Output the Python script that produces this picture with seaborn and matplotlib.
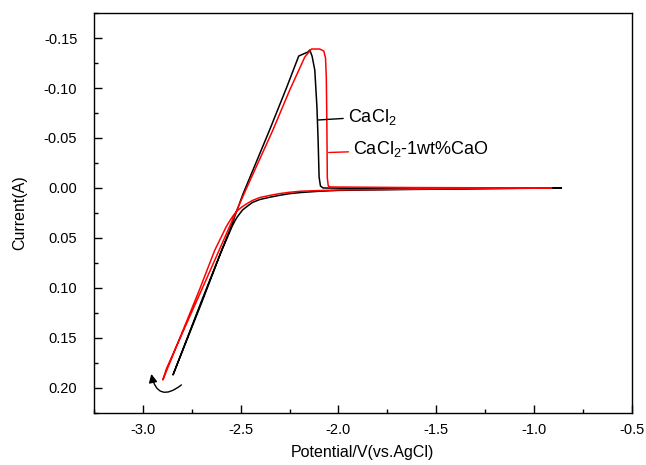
import pandas as pd
import seaborn as sns
import matplotlib
matplotlib.use("Agg")
import matplotlib.pyplot as plt
from matplotlib.ticker import MultipleLocator, FormatStrFormatter

# CaCl2 cyclic voltammogram (forward scan to the tip, then back)
cacl2_potential = [-0.86, -1.20, -1.60, -2.00, -2.10, -2.197, -2.25, -2.30, -2.35, -2.403,
                   -2.44, -2.471, -2.49, -2.505, -2.52, -2.531, -2.544, -2.556, -2.600,
                   -2.700, -2.846,
                   -2.700, -2.550, -2.488, -2.352, -2.266, -2.203, -2.156, -2.147,
                   -2.135, -2.121, -2.110, -2.104, -2.099, -2.092, -2.079,
                   -1.80, -1.40, -0.86]
cacl2_current = [0.0000, 0.0006, 0.0014, 0.0024, 0.0033, 0.0046, 0.0057, 0.0073, 0.0092, 0.0116,
                 0.0145, 0.0190, 0.0220, 0.0257, 0.0297, 0.0335, 0.0385, 0.0440, 0.0640,
                 0.1150, 0.1870,
                 0.1130, 0.0390, 0.0060, -0.058, -0.100, -0.132, -0.136, -0.138,
                 -0.132, -0.118, -0.081, -0.048, -0.011, -0.002, 0.000,
                 0.0006, 0.0005, 0.0000]

# CaCl2-1wt%CaO
cao_potential = [-0.91, -1.30, -1.70, -2.00, -2.10, -2.197, -2.25, -2.30, -2.35, -2.403,
                 -2.44, -2.474, -2.495, -2.515, -2.532, -2.546, -2.562, -2.577, -2.633,
                 -2.709, -2.898,
                 -2.880, -2.693, -2.474, -2.335, -2.249, -2.172, -2.138, -2.096,
                 -2.075, -2.066, -2.062, -2.059, -2.057, -2.052, -2.040,
                 -1.60, -0.91]
cao_current = [0.0000, 0.0006, 0.0013, 0.0020, 0.0026, 0.0033, 0.0043, 0.0056, 0.0074, 0.0096,
               0.0125, 0.0164, 0.0192, 0.0224, 0.0260, 0.0300, 0.0348, 0.0400, 0.0625,
               0.1010, 0.1920,
               0.1810, 0.0990, 0.0020, -0.058, -0.098, -0.131, -0.139, -0.139,
               -0.137, -0.130, -0.110, -0.060, -0.010, -0.002, -0.001,
               -0.0004, 0.0000]

labels = ["CaCl$_2$", "CaCl$_2$-1wt%CaO"]

df = pd.concat([
    pd.DataFrame({"potential": cacl2_potential, "current": cacl2_current, "curve": labels[0]}),
    pd.DataFrame({"potential": cao_potential, "current": cao_current, "curve": labels[1]}),
], ignore_index=True)

sns.set_style("ticks")
plt.rcParams["font.family"] = ["Liberation Sans", "DejaVu Sans"]
plt.rcParams["mathtext.fontset"] = "custom"
plt.rcParams["mathtext.rm"] = "Liberation Sans"
plt.rcParams["mathtext.default"] = "regular"
for key in ["text.color", "axes.labelcolor", "xtick.color", "ytick.color", "axes.edgecolor"]:
    plt.rcParams[key] = "black"

fig = plt.figure(figsize=(6.46, 4.65), dpi=100)
ax = fig.add_axes([0.1455, 0.112, 0.8325, 0.86])

sns.lineplot(data=df, x="potential", y="current", hue="curve",
             palette={labels[0]: "black", labels[1]: "red"},
             sort=False, estimator=None, legend=False, linewidth=1.1, ax=ax)

ax.set_xlim(-3.25, -0.5)
ax.set_ylim(0.225, -0.175)
ax.xaxis.set_major_locator(MultipleLocator(0.5))
ax.xaxis.set_minor_locator(MultipleLocator(0.25))
ax.yaxis.set_major_locator(MultipleLocator(0.05))
ax.yaxis.set_minor_locator(MultipleLocator(0.025))
ax.xaxis.set_major_formatter(FormatStrFormatter("%.1f"))
ax.yaxis.set_major_formatter(FormatStrFormatter("%.2f"))
ax.tick_params(which="both", direction="in", width=1.0, labelsize=10.5)
ax.tick_params(which="major", length=6)
ax.tick_params(which="minor", length=3)
ax.tick_params(axis="y", pad=12)
ax.tick_params(axis="x", pad=7)
for s in ax.spines.values():
    s.set_linewidth(1.0)

ax.set_xlabel("Potential/V(vs.AgCl)", fontsize=11.5, labelpad=6)
ax.set_ylabel("Current(A)", fontsize=11.5, labelpad=12)

# curve labels with leader lines
ax.annotate(labels[0], xy=(-2.104, -0.068), xytext=(-1.952, -0.0713),
            fontsize=13, ha="left", va="center",
            arrowprops=dict(arrowstyle="-", color="black", lw=1.0, shrinkA=1, shrinkB=0))
ax.annotate(labels[1], xy=(-2.050, -0.0355), xytext=(-1.925, -0.0385),
            fontsize=13, ha="left", va="center",
            arrowprops=dict(arrowstyle="-", color="red", lw=1.0, shrinkA=1, shrinkB=0))

# scan direction arrow
ax.annotate("", xy=(-2.957, 0.186), xytext=(-2.803, 0.197),
            arrowprops=dict(arrowstyle="-|>,head_length=0.5,head_width=0.25",
                            color="black", lw=1.0,
                            connectionstyle="arc3,rad=-0.8", shrinkA=0, shrinkB=0))

fig.savefig("out.png", dpi=100)
